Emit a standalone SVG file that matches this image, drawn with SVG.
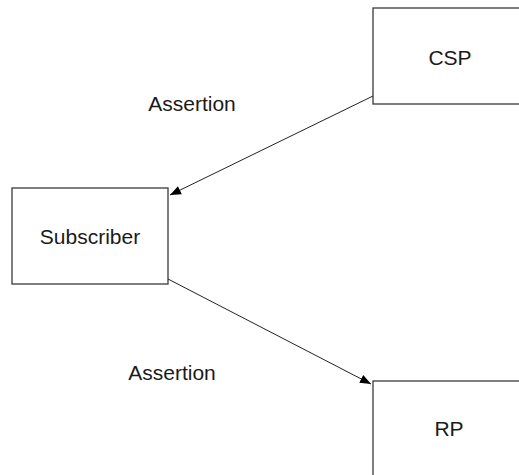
<svg xmlns="http://www.w3.org/2000/svg" width="519" height="475" viewBox="0 0 519 475">
<style>
.box{fill:#fff;stroke:#3a3a3a;stroke-width:1.3}
.t{font-family:"Liberation Sans",Arial,sans-serif;font-size:21px;fill:#1a1a1a;text-anchor:middle}
.c{stroke:#222;stroke-width:1;fill:none}
</style>
<defs>
<marker id="ah" viewBox="0 0 10 10" refX="10" refY="5" markerWidth="11" markerHeight="11" markerUnits="userSpaceOnUse" orient="auto">
<path d="M0,1 L10,5 L0,9 Z" fill="#000"/>
</marker>
</defs>
<rect width="519" height="475" fill="#fff"/>
<g id="csp"><rect class="box" x="373" y="8" width="170" height="96"/><text class="t" x="450" y="65">CSP</text></g>
<g id="subscriber"><rect class="box" x="12" y="188" width="156" height="96"/><text class="t" x="90" y="244">Subscriber</text></g>
<g id="rp"><rect class="box" x="373" y="381" width="170" height="110"/><text class="t" x="449" y="436">RP</text></g>
<g id="connectors">
<line class="c" x1="373" y1="96" x2="170" y2="195" marker-end="url(#ah)"/>
<line class="c" x1="168" y1="279" x2="371" y2="384" marker-end="url(#ah)"/>
</g>
<g id="labels">
<text class="t" x="192" y="111">Assertion</text>
<text class="t" x="172" y="380">Assertion</text>
</g>
</svg>
